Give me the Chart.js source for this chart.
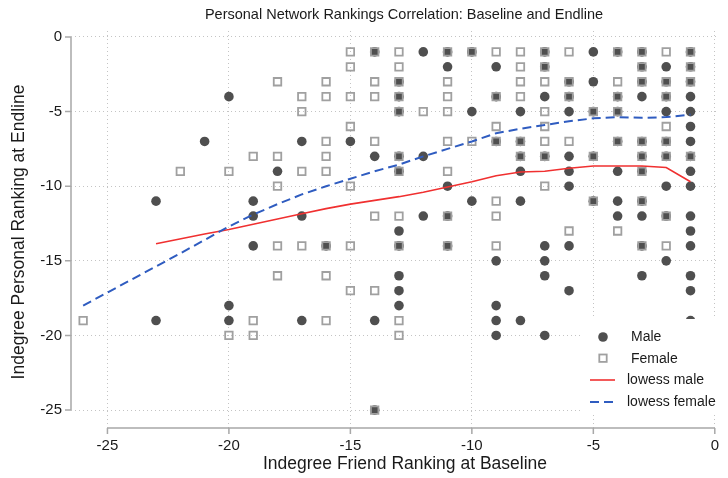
<!DOCTYPE html>
<html>
<head>
<meta charset="utf-8">
<script src="https://cdn.jsdelivr.net/npm/chart.js@4"></script>
<style>
  html, body { margin: 0; padding: 0; background: #fff; }
</style>
</head>
<body>
<canvas id="chart" width="728" height="478"></canvas>
<script>
// Scatter points: [baseline rank, endline rank]
const malePoints = [
  [-20, -4], [-21, -7], [-18, -9], [-23, -11], [-19, -11], [-19, -12], [-19, -14], [-20, -18], [-20, -19], [-23, -19],
  [-14, -1], [-12, -1], [-11, -1], [-10, -1], [-11, -2], [-9, -2], [-13, -3], [-13, -4], [-9, -4], [-13, -5], [-10, -5],
  [-17, -7], [-15, -7], [-9, -7], [-14, -8], [-13, -8], [-12, -8], [-13, -9], [-11, -10], [-10, -11], [-17, -12], [-12, -12], [-11, -12],
  [-13, -13], [-16, -14], [-13, -14], [-11, -14], [-9, -15], [-13, -16], [-13, -17], [-13, -18], [-9, -18],
  [-17, -19], [-14, -19], [-9, -19], [-9, -20], [-14, -25],
  [-7, -1], [-5, -1], [-4, -1], [-3, -1], [-1, -1], [-7, -2], [-3, -2], [-2, -2], [-1, -2],
  [-6, -3], [-5, -3], [-3, -3], [-2, -3], [-1, -3], [-7, -4], [-6, -4], [-4, -4], [-3, -4], [-2, -4], [-1, -4],
  [-8, -5], [-6, -5], [-5, -5], [-4, -5], [-2, -5], [-1, -5], [-1, -6],
  [-8, -7], [-4, -7], [-3, -7], [-2, -7], [-1, -7], [-8, -8], [-7, -8], [-6, -8], [-5, -8], [-3, -8], [-2, -8], [-1, -8],
  [-8, -9], [-6, -9], [-4, -9], [-3, -9], [-1, -9], [-6, -10], [-2, -10], [-1, -10],
  [-8, -11], [-5, -11], [-4, -11], [-3, -11], [-4, -12], [-3, -12], [-2, -12], [-1, -12],
  [-1, -13], [-7, -14], [-6, -14], [-3, -14], [-1, -14], [-7, -15], [-2, -15], [-7, -16], [-3, -16], [-1, -16],
  [-6, -17], [-1, -17], [-8, -19], [-1, -19], [-7, -20]
];

const femalePoints = [
  [-18, -3], [-22, -9], [-20, -9], [-19, -8], [-18, -8], [-18, -10], [-18, -14], [-18, -16], [-19, -19], [-20, -20], [-19, -20], [-26, -19],
  [-15, -1], [-14, -1], [-13, -1], [-11, -1], [-10, -1], [-9, -1], [-15, -2], [-13, -2],
  [-16, -3], [-14, -3], [-13, -3], [-11, -3], [-17, -4], [-16, -4], [-15, -4], [-14, -4], [-13, -4], [-11, -4], [-9, -4],
  [-17, -5], [-13, -5], [-12, -5], [-11, -5], [-15, -6], [-9, -6],
  [-16, -7], [-14, -7], [-11, -7], [-10, -7], [-9, -7], [-16, -8], [-13, -8], [-17, -9], [-16, -9], [-13, -9], [-11, -9],
  [-15, -10], [-9, -11], [-14, -12], [-13, -12], [-11, -12], [-9, -12],
  [-17, -14], [-16, -14], [-15, -14], [-13, -14], [-11, -14], [-9, -14], [-16, -16], [-15, -17], [-14, -17],
  [-16, -19], [-13, -19], [-13, -20], [-14, -25],
  [-8, -1], [-7, -1], [-6, -1], [-4, -1], [-3, -1], [-2, -1], [-1, -1], [-8, -2], [-7, -2], [-3, -2], [-1, -2],
  [-8, -3], [-7, -3], [-6, -3], [-4, -3], [-3, -3], [-2, -3], [-1, -3], [-8, -4], [-6, -4], [-4, -4], [-2, -4],
  [-7, -5], [-5, -5], [-4, -5], [-7, -6], [-2, -6],
  [-8, -7], [-7, -7], [-6, -7], [-4, -7], [-3, -7], [-2, -7], [-8, -8], [-7, -8], [-5, -8], [-3, -8], [-2, -8], [-1, -8],
  [-3, -9], [-7, -10], [-5, -11], [-3, -11], [-2, -12], [-6, -13], [-4, -13], [-3, -14], [-2, -14]
];

// lowess curves
const lowessMaleX = [-23, -21, -20, -19, -18, -17, -16, -15, -14, -13, -12, -11, -10, -9, -8, -7, -6, -5, -4, -3, -2, -1];
const lowessMaleY = [-13.85, -13.2, -12.9, -12.55, -12.2, -11.85, -11.5, -11.2, -10.95, -10.7, -10.4, -10.05, -9.7, -9.3, -9.05, -9.0, -8.8, -8.65, -8.65, -8.65, -8.75, -9.7];
const lowessFemaleX = [-26, -22, -20, -19, -18, -17, -16, -15, -14, -13, -12, -11, -10, -9, -8, -7, -6, -5, -4, -3, -2, -1];
const lowessFemaleY = [-18.0, -14.5, -12.7, -11.9, -11.2, -10.55, -10.0, -9.5, -9.0, -8.55, -8.0, -7.5, -7.0, -6.45, -6.15, -5.9, -5.65, -5.45, -5.37, -5.42, -5.37, -5.2];

const xTicks = [-25, -20, -15, -10, -5, 0];
const yTicks = [0, -5, -10, -15, -20, -25];

const FONT = "'Liberation Sans', Arial, Helvetica, sans-serif";
const toXY = arr => arr.map(p => ({ x: p[0], y: p[1] }));
const zip = (xs, ys) => xs.map((x, i) => ({ x: x, y: ys[i] }));

// titles, axis lines, tick marks and the legend box, drawn Stata-style
const decor = {
  id: 'decor',
  afterDraw(chart) {
    const ctx = chart.ctx;
    const xs = chart.scales.x, ys = chart.scales.y;
    const axisY = chart.chartArea.bottom;
    const axisX = chart.chartArea.left;
    ctx.save();
    ctx.strokeStyle = '#a8a8a8';
    ctx.lineWidth = 1.5;
    ctx.beginPath();
    ctx.moveTo(xs.getPixelForValue(-25), axisY);
    ctx.lineTo(xs.getPixelForValue(0), axisY);
    xTicks.forEach(v => {
      const px = xs.getPixelForValue(v);
      ctx.moveTo(px, axisY);
      ctx.lineTo(px, axisY + 6);
    });
    ctx.moveTo(axisX, ys.getPixelForValue(0));
    ctx.lineTo(axisX, ys.getPixelForValue(-25));
    yTicks.forEach(v => {
      const py = ys.getPixelForValue(v);
      ctx.moveTo(axisX, py);
      ctx.lineTo(axisX - 6, py);
    });
    ctx.stroke();

    ctx.fillStyle = '#1a1a1a';
    ctx.textAlign = 'center';
    ctx.textBaseline = 'middle';
    ctx.font = '14.5px ' + FONT;
    ctx.fillText('Personal Network Rankings Correlation: Baseline and Endline', 404, 15);
    ctx.font = '17.5px ' + FONT;
    ctx.fillText('Indegree Friend Ranking at Baseline', 405, 464);
    ctx.translate(19, 232);
    ctx.rotate(-Math.PI / 2);
    ctx.fillText('Indegree Personal Ranking at Endline', 0, 0);
    ctx.restore();

    // legend
    ctx.save();
    ctx.fillStyle = '#fff';
    ctx.fillRect(581, 319, 147, 94);
    ctx.fillStyle = '#4f4f4f';
    ctx.beginPath();
    ctx.arc(603, 337, 4.8, 0, Math.PI * 2);
    ctx.fill();
    ctx.strokeStyle = '#a0a0a0';
    ctx.lineWidth = 1.8;
    ctx.strokeRect(599.3, 354.5, 7.4, 7.4);
    ctx.strokeStyle = '#f03030';
    ctx.lineWidth = 1.6;
    ctx.beginPath();
    ctx.moveTo(590, 380);
    ctx.lineTo(615, 380);
    ctx.stroke();
    ctx.strokeStyle = '#2f5cc0';
    ctx.lineWidth = 2;
    ctx.setLineDash([9, 5]);
    ctx.beginPath();
    ctx.moveTo(590, 402);
    ctx.lineTo(615, 402);
    ctx.stroke();
    ctx.setLineDash([]);
    ctx.fillStyle = '#1a1a1a';
    ctx.font = '14px ' + FONT;
    ctx.textAlign = 'left';
    ctx.textBaseline = 'middle';
    ctx.fillText('Male', 631, 337);
    ctx.fillText('Female', 631, 359);
    ctx.fillText('lowess male', 627, 380);
    ctx.fillText('lowess female', 627, 402);
    ctx.restore();
  }
};

const gridStyle = {
  color: '#c4c4c4',
  lineWidth: 1,
  drawTicks: false
};

new Chart(document.getElementById('chart'), {
  type: 'scatter',
  data: {
    datasets: [
      {
        label: 'Male',
        data: toXY(malePoints),
        pointStyle: 'circle',
        pointRadius: 4.8,
        backgroundColor: '#4f4f4f',
        borderWidth: 0,
        order: 3
      },
      {
        label: 'Female',
        data: toXY(femalePoints),
        pointStyle: 'rect',
        pointRadius: 5.3,
        backgroundColor: 'rgba(0,0,0,0)',
        borderColor: '#a0a0a0',
        borderWidth: 1.8,
        order: 2
      },
      {
        label: 'lowess male',
        data: zip(lowessMaleX, lowessMaleY),
        showLine: true,
        pointRadius: 0,
        borderColor: '#f03030',
        borderWidth: 1.6,
        tension: 0,
        order: 1
      },
      {
        label: 'lowess female',
        data: zip(lowessFemaleX, lowessFemaleY),
        showLine: true,
        pointRadius: 0,
        borderColor: '#2f5cc0',
        borderWidth: 2,
        borderDash: [9, 5],
        tension: 0,
        order: 0
      }
    ]
  },
  options: {
    responsive: false,
    animation: false,
    devicePixelRatio: 1,
    layout: { padding: { top: 31, right: 0, left: 0, bottom: 0 } },
    scales: {
      x: {
        min: -26.5,
        max: 0.1,
        afterBuildTicks: s => { s.ticks = xTicks.map(v => ({ value: v })); },
        afterFit: s => { s.height = 50; },
        border: { display: false, dash: [1, 3] },
        grid: gridStyle,
        ticks: { color: '#1a1a1a', font: { family: FONT, size: 15 }, padding: 9, maxRotation: 0 }
      },
      y: {
        min: -26.2,
        max: 0.4,
        afterBuildTicks: s => { s.ticks = yTicks.map(v => ({ value: v })); },
        afterFit: s => { s.width = 71; },
        border: { display: false, dash: [1, 3] },
        grid: gridStyle,
        ticks: { color: '#1a1a1a', font: { family: FONT, size: 15 }, padding: 9 }
      }
    },
    plugins: {
      legend: { display: false },
      title: { display: false },
      tooltip: { enabled: false }
    }
  },
  plugins: [decor]
});
</script>
</body>
</html>
